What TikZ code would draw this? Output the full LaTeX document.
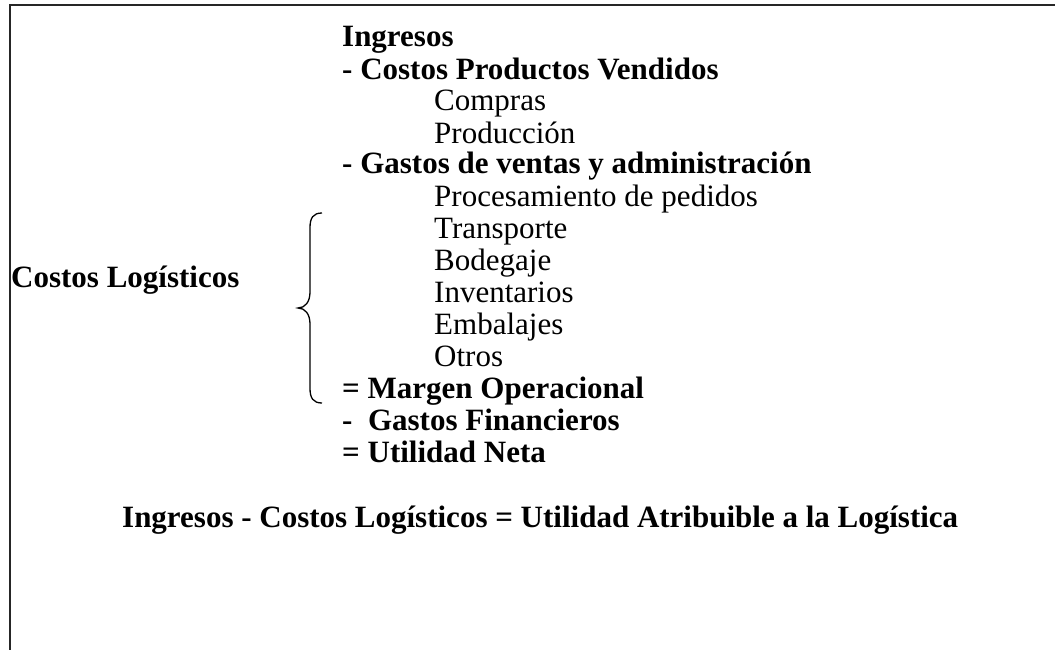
\documentclass[tikz,border=0pt]{standalone}
\usepackage{fontspec}
\setmainfont{Liberation Serif}
\begin{document}
\begin{tikzpicture}[x=1pt,y=-1pt,
  bline/.style={font=\fontsize{31}{32}\selectfont\bfseries, anchor=base west, inner sep=0pt},
  rline/.style={font=\fontsize{31}{32}\selectfont, anchor=base west, inner sep=0pt},
  frame/.style={line width=2pt, draw=black!85},
  bracestyle/.style={line width=1.3pt}]
\useasboundingbox (0,0) rectangle (1055,650);
\coordinate (tl) at (10,5);
\coordinate (tr) at (1055,5);
\coordinate (bl) at (10,650);
\draw[frame] (tr) -- (tl) -- (bl);
\node[bline] (ing) at (342,47) {Ingresos};
\node[bline] (cpv) at (342,80) {- Costos Productos Vendidos};
\node[rline] (com) at (434,111) {Compras};
\node[rline] (pro) at (434,143) {Producción};
\node[bline] (gva) at (342,174) {- Gastos de ventas y administración};
\node[rline] (ped) at (434,206) {Procesamiento de pedidos};
\node[rline] (tra) at (434,238) {Transporte};
\node[rline] (bod) at (434,270) {Bodegaje};
\node[rline] (inv) at (434,302) {Inventarios};
\node[rline] (emb) at (434,334) {Embalajes};
\node[rline] (otr) at (434,366) {Otros};
\node[bline] (mar) at (342,398) {= Margen Operacional};
\node[bline] (gfi) at (342,430) {-\hspace{0.5em}Gastos Financieros};
\node[bline] (uti) at (342,462) {= Utilidad Neta};
\node[bline] (cl) at (11,287) {Costos Logísticos};
\node[bline] (eq) at (122,527) {Ingresos - Costos Logísticos = Utilidad Atribuible a la Logística};
\coordinate (btop) at (322,213);
\coordinate (btip) at (298,308);
\coordinate (bbot) at (322,403);
\draw[bracestyle] (btop) .. controls (313,213) and (310,218) .. (310,228)
  -- (310,292) .. controls (310,302) and (305,308) .. (btip)
  .. controls (305,308) and (310,314) .. (310,324)
  -- (310,388) .. controls (310,398) and (313,403) .. (bbot);
\end{tikzpicture}
\end{document}
